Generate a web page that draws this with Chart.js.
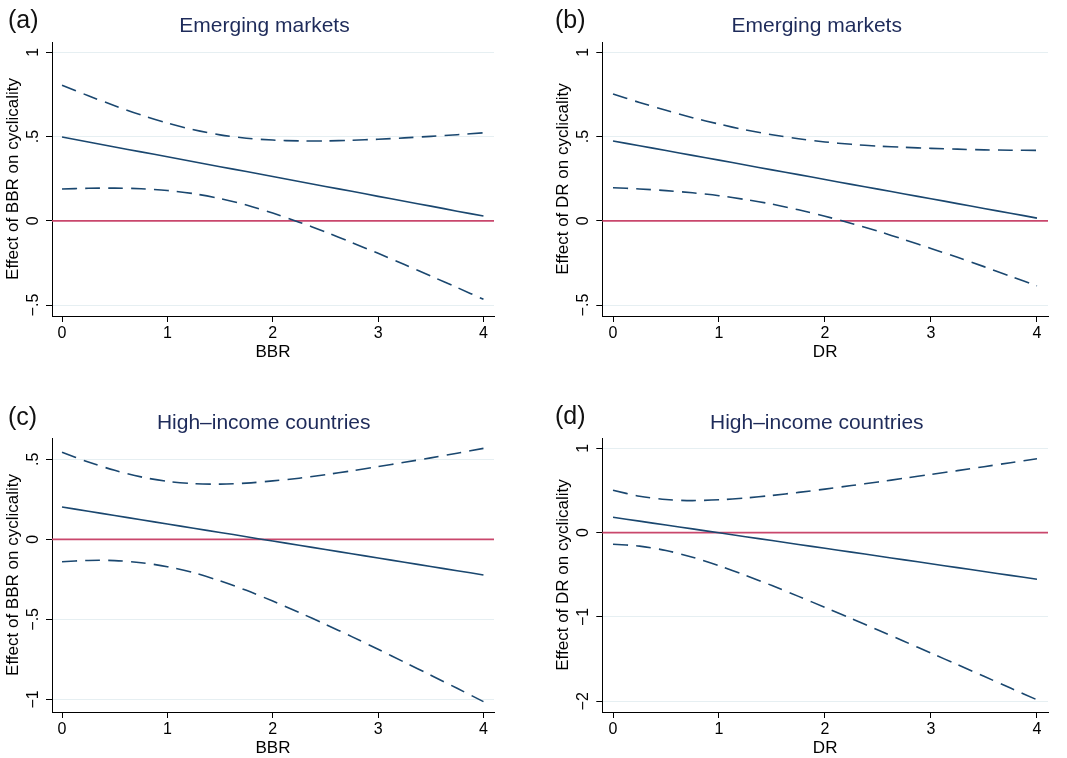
<!DOCTYPE html>
<html>
<head>
<meta charset="utf-8">
<script src="https://cdn.jsdelivr.net/npm/chart.js@4.4.1/dist/chart.umd.min.js"></script>
<style>
  html, body { margin: 0; padding: 0; background: #fff; }
  #wrap { position: relative; width: 1067px; height: 758px; overflow: hidden; background: #fff; }
  #wrap canvas { position: absolute; }
</style>
</head>
<body>
<div id="wrap">
  <canvas id="pa"></canvas>
  <canvas id="pb"></canvas>
  <canvas id="pc"></canvas>
  <canvas id="pd"></canvas>
</div>
<script>
// Evaluation points of the moderating variable (BBR or DR)
const xPoints = [0, 0.25, 0.5, 0.75, 1, 1.25, 1.5, 1.75, 2, 2.25, 2.5, 2.75, 3, 3.25, 3.5, 3.75, 4];
const xTicks = [0, 1, 2, 3, 4];

// (a) Emerging markets, BBR
const bbrEmEffect = [0.497, 0.468, 0.438, 0.409, 0.380, 0.350, 0.321, 0.292, 0.263, 0.233, 0.204, 0.175, 0.145, 0.116, 0.087, 0.057, 0.028];
const bbrEmUpper  = [0.805, 0.742, 0.683, 0.628, 0.580, 0.540, 0.510, 0.490, 0.479, 0.474, 0.474, 0.478, 0.484, 0.492, 0.501, 0.511, 0.522];
const bbrEmLower  = [0.189, 0.193, 0.194, 0.190, 0.180, 0.161, 0.132, 0.094, 0.046, -0.008, -0.066, -0.129, -0.193, -0.260, -0.328, -0.396, -0.466];

// (b) Emerging markets, DR
const drEmEffect = [0.474, 0.445, 0.417, 0.388, 0.360, 0.331, 0.302, 0.274, 0.245, 0.216, 0.188, 0.159, 0.131, 0.102, 0.073, 0.045, 0.016];
const drEmUpper  = [0.753, 0.702, 0.656, 0.612, 0.574, 0.539, 0.511, 0.487, 0.468, 0.454, 0.443, 0.436, 0.430, 0.425, 0.421, 0.419, 0.418];
const drEmLower  = [0.196, 0.189, 0.179, 0.166, 0.149, 0.126, 0.099, 0.065, 0.027, -0.016, -0.062, -0.112, -0.164, -0.217, -0.272, -0.329, -0.386];

// (c) High-income countries, BBR
const bbrHiEffect = [0.202, 0.175, 0.149, 0.122, 0.096, 0.069, 0.043, 0.016, -0.011, -0.037, -0.064, -0.090, -0.117, -0.143, -0.170, -0.196, -0.223];
const bbrHiUpper  = [0.544, 0.483, 0.431, 0.390, 0.362, 0.348, 0.345, 0.351, 0.365, 0.382, 0.404, 0.428, 0.454, 0.481, 0.509, 0.538, 0.568];
const bbrHiLower  = [-0.140, -0.132, -0.133, -0.146, -0.171, -0.209, -0.260, -0.319, -0.386, -0.457, -0.531, -0.608, -0.687, -0.768, -0.849, -0.931, -1.014];

// (d) High-income countries, DR
const drHiEffect = [0.182, 0.136, 0.090, 0.044, -0.002, -0.048, -0.094, -0.140, -0.186, -0.231, -0.277, -0.323, -0.369, -0.415, -0.461, -0.507, -0.553];
const drHiUpper  = [0.502, 0.432, 0.392, 0.380, 0.389, 0.411, 0.441, 0.477, 0.516, 0.558, 0.600, 0.645, 0.690, 0.735, 0.782, 0.829, 0.876];
const drHiLower  = [-0.138, -0.160, -0.212, -0.292, -0.392, -0.506, -0.628, -0.756, -0.887, -1.020, -1.155, -1.291, -1.428, -1.566, -1.704, -1.843, -1.982];

// Y tick values and their printed labels
const yTicksEm = [-0.5, 0, 0.5, 1];
const yLabelsEm = ['\u2212.5', '0', '.5', '1'];
const yTicksBbrHi = [-1, -0.5, 0, 0.5];
const yLabelsBbrHi = ['\u22121', '\u2212.5', '0', '.5'];
const yTicksDrHi = [-2, -1, 0, 1];
const yLabelsDrHi = ['\u22122', '\u22121', '0', '1'];

const FONT = "'Liberation Sans', Arial, Helvetica, sans-serif";
const NAVY = '#1a476f';
const TITLE_NAVY = '#1e2b5a';
const ZERO_RED = '#c9476c';
const GRID = '#e6eff2';
const Y_AXIS_W = 52;
const X_AXIS_H = 50;
const TICK_SIZE = 16;
const AXIS_TITLE_SIZE = 17;

const panels = [
  { id: 'pa', left: 0, top: 0, w: 533, h: 400, area: { l: 52, t: 42, r: 494, b: 316 },
    xMin: -0.095, xMax: 4.1, yMin: -0.565, yMax: 1.061,
    yTicks: yTicksEm, yLabels: yLabelsEm, xTitle: 'BBR', yTitle: 'Effect of BBR on cyclicality',
    letter: '(a)', letterAt: [8, 28.3], title: 'Emerging markets', titleAt: [264.5, 32.3],
    effect: bbrEmEffect, upper: bbrEmUpper, lower: bbrEmLower },
  { id: 'pb', left: 533, top: 0, w: 534, h: 400, area: { l: 602.3, t: 42, r: 1048, b: 316 },
    xMin: -0.101, xMax: 4.104, yMin: -0.565, yMax: 1.061,
    yTicks: yTicksEm, yLabels: yLabelsEm, xTitle: 'DR', yTitle: 'Effect of DR on cyclicality',
    letter: '(b)', letterAt: [555, 28.3], title: 'Emerging markets', titleAt: [816.7, 32.3],
    effect: drEmEffect, upper: drEmUpper, lower: drEmLower },
  { id: 'pc', left: 0, top: 379, w: 533, h: 400, area: { l: 52, t: 438, r: 494, b: 712 },
    xMin: -0.095, xMax: 4.1, yMin: -1.079, yMax: 0.633,
    yTicks: yTicksBbrHi, yLabels: yLabelsBbrHi, xTitle: 'BBR', yTitle: 'Effect of BBR on cyclicality',
    letter: '(c)', letterAt: [8, 425], title: 'High\u2013income countries', titleAt: [263.7, 429],
    effect: bbrHiEffect, upper: bbrHiUpper, lower: bbrHiLower },
  { id: 'pd', left: 533, top: 379, w: 534, h: 400, area: { l: 602.3, t: 438, r: 1048, b: 712 },
    xMin: -0.101, xMax: 4.104, yMin: -2.127, yMax: 1.122,
    yTicks: yTicksDrHi, yLabels: yLabelsDrHi, xTitle: 'DR', yTitle: 'Effect of DR on cyclicality',
    letter: '(d)', letterAt: [555, 424], title: 'High\u2013income countries', titleAt: [816.8, 429],
    effect: drHiEffect, upper: drHiUpper, lower: drHiLower }
];

// Horizontal reference line at zero
const zeroLine = {
  id: 'zeroLine',
  beforeDatasetsDraw(chart) {
    const { ctx, chartArea, scales } = chart;
    const y = scales.y.getPixelForValue(0);
    ctx.save();
    ctx.strokeStyle = ZERO_RED;
    ctx.lineWidth = 1.8;
    ctx.beginPath();
    ctx.moveTo(chartArea.left, y);
    ctx.lineTo(chartArea.right, y);
    ctx.stroke();
    ctx.restore();
  }
};

// Vertical (rotated) y tick labels, panel letter and panel title
const panelText = {
  id: 'panelText',
  afterDraw(chart, args, opts) {
    const { ctx, chartArea, scales } = chart;
    ctx.save();
    ctx.fillStyle = '#000';
    ctx.font = TICK_SIZE + 'px ' + FONT;
    ctx.textAlign = 'center';
    ctx.textBaseline = 'alphabetic';
    scales.y.ticks.forEach((t, i) => {
      const y = scales.y.getPixelForValue(t.value);
      ctx.save();
      ctx.translate(chartArea.left - 14.5, y);
      ctx.rotate(-Math.PI / 2);
      ctx.fillText(opts.yLabels[i], 0, 0);
      ctx.restore();
    });
    ctx.textAlign = 'left';
    ctx.fillStyle = '#111';
    ctx.font = '25px ' + FONT;
    ctx.fillText(opts.letter, opts.letterAt[0], opts.letterAt[1]);
    ctx.textAlign = 'center';
    ctx.fillStyle = TITLE_NAVY;
    ctx.font = '21px ' + FONT;
    ctx.fillText(opts.title, opts.titleAt[0], opts.titleAt[1]);
    ctx.restore();
  }
};

function pairs(xs, ys) { return xs.map((x, i) => ({ x: x, y: ys[i] })); }

panels.forEach(p => {
  const cv = document.getElementById(p.id);
  cv.width = p.w; cv.height = p.h;
  cv.style.left = p.left + 'px'; cv.style.top = p.top + 'px';
  cv.style.width = p.w + 'px'; cv.style.height = p.h + 'px';

  const line = { borderColor: NAVY, borderWidth: 1.6, pointRadius: 0, tension: 0.3, fill: false };
  new Chart(cv.getContext('2d'), {
    type: 'line',
    data: {
      datasets: [
        Object.assign({ label: 'upper', data: pairs(xPoints, p.upper), borderDash: [15, 8] }, line),
        Object.assign({ label: 'effect', data: pairs(xPoints, p.effect) }, line),
        Object.assign({ label: 'lower', data: pairs(xPoints, p.lower), borderDash: [15, 8] }, line)
      ]
    },
    options: {
      responsive: false,
      animation: false,
      devicePixelRatio: 1,
      layout: {
        padding: {
          left: p.area.l - p.left - Y_AXIS_W,
          top: p.area.t - p.top,
          right: p.left + p.w - p.area.r,
          bottom: p.top + p.h - p.area.b - X_AXIS_H
        }
      },
      plugins: {
        legend: { display: false },
        tooltip: { enabled: false },
        panelText: {
          yLabels: p.yLabels, letter: p.letter, title: p.title,
          letterAt: [p.letterAt[0] - p.left, p.letterAt[1] - p.top],
          titleAt: [p.titleAt[0] - p.left, p.titleAt[1] - p.top]
        }
      },
      scales: {
        x: {
          type: 'linear', min: p.xMin, max: p.xMax,
          afterBuildTicks: s => { s.ticks = xTicks.map(v => ({ value: v })); },
          afterFit: s => { s.height = X_AXIS_H; },
          ticks: { color: '#000', font: { family: FONT, size: TICK_SIZE }, padding: 2, maxRotation: 0, minRotation: 0,
                   callback: v => String(v) },
          grid: { display: true, drawOnChartArea: false, drawTicks: true, tickLength: 6, color: '#000', tickColor: '#000' },
          border: { display: true, color: '#000', width: 1 },
          title: { display: true, text: p.xTitle, color: '#000', font: { family: FONT, size: AXIS_TITLE_SIZE }, padding: { top: 0, bottom: 3 } }
        },
        y: {
          type: 'linear', min: p.yMin, max: p.yMax,
          afterBuildTicks: s => { s.ticks = p.yTicks.map(v => ({ value: v })); },
          afterFit: s => { s.width = Y_AXIS_W; },
          ticks: { display: false },
          grid: { display: true, drawOnChartArea: true, drawTicks: true, tickLength: 6, color: GRID, tickColor: '#000', lineWidth: 1 },
          border: { display: true, color: '#000', width: 1 },
          title: { display: true, text: p.yTitle, color: '#000', font: { family: FONT, size: AXIS_TITLE_SIZE }, padding: { top: 3, bottom: 0 } }
        }
      }
    },
    plugins: [zeroLine, panelText]
  });
});
</script>
</body>
</html>
